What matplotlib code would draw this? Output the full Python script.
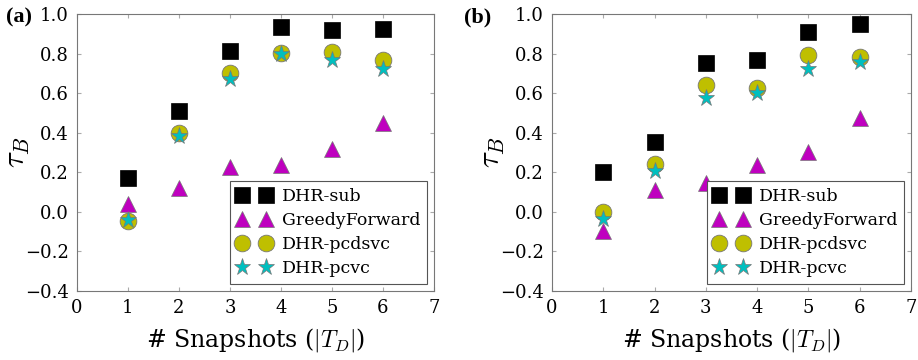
import matplotlib
matplotlib.use("Agg")
import matplotlib.pyplot as plt

plt.rcParams["font.family"] = ["DejaVu Serif"]
plt.rcParams["mathtext.fontset"] = "cm"

snapshots = [1, 2, 3, 4, 5, 6]

# panel (a)
a_sub = [0.17, 0.51, 0.815, 0.935, 0.92, 0.925]
a_greedy = [0.04, 0.12, 0.225, 0.235, 0.32, 0.45]
a_pcdsvc = [-0.045, 0.40, 0.70, 0.805, 0.81, 0.765]
a_pcvc = [-0.04, 0.385, 0.67, 0.80, 0.765, 0.72]

# panel (b)
b_sub = [0.20, 0.355, 0.75, 0.765, 0.91, 0.95]
b_greedy = [-0.095, 0.11, 0.145, 0.235, 0.30, 0.475]
b_pcdsvc = [0.0, 0.24, 0.64, 0.625, 0.795, 0.785]
b_pcvc = [-0.035, 0.205, 0.575, 0.60, 0.72, 0.755]

labels = ["DHR-sub", "GreedyForward", "DHR-pcdsvc", "DHR-pcvc"]


def draw(ax, sub, greedy, pcdsvc, pcvc):
    ax.plot(snapshots, sub, "s", color="k", markersize=12, mec="k", mew=0.5, label=labels[0])
    ax.plot(snapshots, greedy, "^", color="m", markersize=12, mec="#777777", mew=0.5, label=labels[1])
    ax.plot(snapshots, pcdsvc, "o", color="y", markersize=12, mec="#777777", mew=0.6, label=labels[2])
    ax.plot(snapshots, pcvc, "*", color="c", markersize=12.5, mec="#777777", mew=0.5, label=labels[3])

    ax.set_xlim(0, 7)
    ax.set_ylim(-0.4, 1.0)
    ax.set_xticks(range(0, 8))
    ax.set_yticks([-0.4, -0.2, 0.0, 0.2, 0.4, 0.6, 0.8, 1.0])
    ax.tick_params(direction="in", length=3, color="#aaaaaa", labelsize=13,
                   top=True, right=True, pad=6)
    for s in ax.spines.values():
        s.set_color("#777777")
    ax.set_xlabel(r"# Snapshots ($|T_D|$)", fontsize=17, labelpad=6)
    ax.set_ylabel(r"$\tau_B$", fontsize=22)
    ax.yaxis.set_label_coords(-0.125, 0.5)

    leg = ax.legend(loc="lower right", numpoints=2, fontsize=12.5, fancybox=False,
                    framealpha=1, edgecolor="#555555", handletextpad=0.6,
                    borderpad=0.4, labelspacing=0.4, borderaxespad=0.4)
    leg.get_frame().set_linewidth(0.8)


fig = plt.figure(figsize=(9.18, 3.6), dpi=100)
ax1 = fig.add_axes([77 / 918, 1 - 291 / 360, 357 / 918, 277 / 360])
ax2 = fig.add_axes([552 / 918, 1 - 291 / 360, 359 / 918, 277 / 360])

draw(ax1, a_sub, a_greedy, a_pcdsvc, a_pcvc)
draw(ax2, b_sub, b_greedy, b_pcdsvc, b_pcvc)

fig.text(6 / 918, 1 - 17 / 360, "(a)", fontsize=16, fontweight="bold",
         family="Liberation Serif", ha="left", va="center")
fig.text(464 / 918, 1 - 17 / 360, "(b)", fontsize=16, fontweight="bold",
         family="Liberation Serif", ha="left", va="center")

fig.savefig("out.png", dpi=100)
